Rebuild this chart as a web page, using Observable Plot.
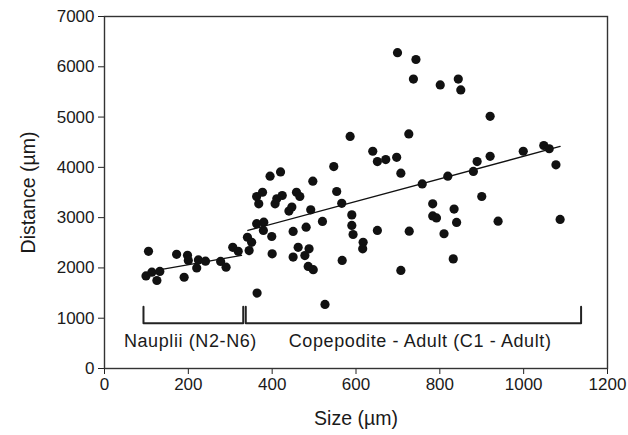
<!DOCTYPE html>
<html><head><meta charset="utf-8">
<script src="https://cdn.jsdelivr.net/npm/d3@7"></script>
<script src="https://cdn.jsdelivr.net/npm/@observablehq/plot@0.6"></script>
<style>
body{margin:0;background:#fff;}
svg text{font-family:"Liberation Sans",Arial,Helvetica,sans-serif;}
g[aria-label="x-axis label"] text, g[aria-label="y-axis label"] text{font-size:19.5px;}
g.group-label text{letter-spacing:0.6px;}
</style></head><body><div id="chart"></div>
<script>
const naupliiSize = [105, 99, 113, 125, 132, 172, 190, 198, 200, 220, 224, 241, 277, 290, 306, 319];
const naupliiDistance = [2330, 1840, 1915, 1750, 1930, 2270, 1815, 2250, 2150, 2000, 2160, 2135, 2130, 2015, 2410, 2330];
const copepoditeSize = [341, 345, 351, 364, 363, 377, 368, 363, 380, 379, 399, 400, 407, 411, 424, 440, 447, 458, 466, 450, 450, 462, 481, 488, 478, 486, 498, 492, 497, 520, 526, 554, 566, 567, 590, 590, 593, 617, 616, 586, 640, 651, 547, 395, 420, 651, 726, 671, 697, 707, 758, 819, 880, 889, 920, 900, 783, 834, 783, 792, 840, 939, 727, 810, 832, 707, 999, 1048, 1061, 1077, 1087, 699, 743, 737, 801, 844, 850, 920];
const copepoditeDistance = [2610, 2345, 2510, 1500, 3420, 3505, 3275, 2880, 2910, 2745, 2625, 2280, 3275, 3375, 3440, 3130, 3210, 3505, 3420, 2725, 2215, 2410, 2810, 2380, 2245, 2030, 1965, 3155, 3725, 2925, 1275, 3520, 3285, 2150, 3055, 2845, 2665, 2510, 2380, 4615, 4320, 4115, 4015, 3825, 3910, 2745, 4665, 4155, 4200, 3885, 3670, 3825, 3920, 4115, 4220, 3420, 3275, 3170, 3035, 2995, 2905, 2930, 2730, 2680, 2180, 1950, 4320, 4435, 4370, 4050, 2965, 6280, 6145, 5755, 5640, 5755, 5540, 5015];
const naupliiFitSize = [130, 327];
const naupliiFitDistance = [1960, 2250];
const copepoditeFitSize = [342, 1087];
const copepoditeFitDistance = [2745, 4415];
const groupNames = ["Nauplii (N2-N6)", "Copepodite - Adult (C1 - Adult)"];
const groupStart = [93, 337];
const groupEnd = [331, 1137];
const bracketBase = 900;
const bracketTop = 1230;
const groupLabelSize = [205, 753];
const groupLabelDistance = 540;
const xTicks = [0, 200, 400, 600, 800, 1000, 1200];
const yTicks = [0, 1000, 2000, 3000, 4000, 5000, 6000, 7000];

const points = [
  ...naupliiSize.map((s, i) => ({size: s, distance: naupliiDistance[i]})),
  ...copepoditeSize.map((s, i) => ({size: s, distance: copepoditeDistance[i]}))
];
const fits = [
  ...naupliiFitSize.map((s, i) => ({size: s, distance: naupliiFitDistance[i], g: 0})),
  ...copepoditeFitSize.map((s, i) => ({size: s, distance: copepoditeFitDistance[i], g: 1}))
];
const brackets = groupNames.flatMap((n, i) => [
  {size: groupStart[i], distance: bracketTop, g: i},
  {size: groupStart[i], distance: bracketBase, g: i},
  {size: groupEnd[i], distance: bracketBase, g: i},
  {size: groupEnd[i], distance: bracketTop, g: i}
]);
const labels = groupNames.map((n, i) => ({name: n, size: groupLabelSize[i], distance: groupLabelDistance}));

const chart = Plot.plot({
  width: 628,
  height: 435,
  marginLeft: 104,
  marginRight: 21,
  marginTop: 16,
  marginBottom: 67,
  style: {fontSize: "17px", color: "#1a1a1a", background: "#fff"},
  x: {domain: [0, 1200]},
  y: {domain: [0, 7000]},
  marks: [
    Plot.axisX({ticks: xTicks, tickFormat: d => String(d), tickSize: 6, tickPadding: 3, label: "Size (µm)", labelAnchor: "center", labelArrow: "none", labelOffset: 56, stroke: "#222"}),
    Plot.axisY({ticks: yTicks, tickFormat: d => String(d), tickSize: 6, tickPadding: 4, label: "Distance (µm)", labelAnchor: "center", labelArrow: "none", labelOffset: 83, stroke: "#222"}),
    Plot.frame({stroke: "#333", strokeWidth: 1.4}),
    Plot.line(brackets, {x: "size", y: "distance", z: "g", stroke: "#222", strokeWidth: 2}),
    Plot.text(labels, {x: "size", y: "distance", text: "name", fontSize: 18, fill: "#1a1a1a", className: "group-label"}),
    Plot.line(fits, {x: "size", y: "distance", z: "g", stroke: "#111", strokeWidth: 1.3}),
    Plot.dot(points, {x: "size", y: "distance", r: 4.6, fill: "#111", stroke: "none"})
  ]
});
document.getElementById("chart").appendChild(chart);
</script></body></html>
